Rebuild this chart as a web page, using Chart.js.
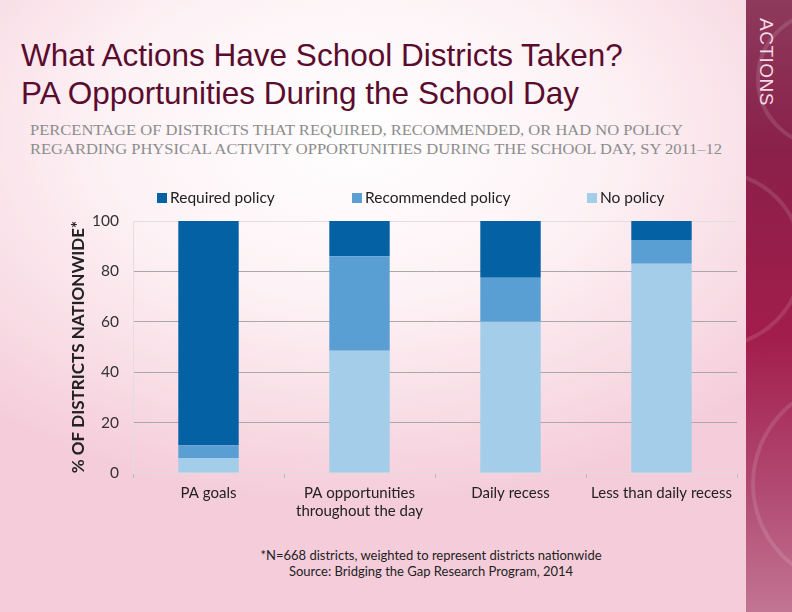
<!DOCTYPE html>
<html>
<head>
<meta charset="utf-8">
<script src="https://cdn.jsdelivr.net/npm/chart.js@4"></script>
<style>
  html, body { margin: 0; padding: 0; }
  body { width: 792px; height: 612px; position: relative; overflow: hidden;
    background: radial-gradient(ellipse 70% 60% at 45% 22%, #ffffff 0%, #fdf2f5 45%, #f8dbe4 80%, #f5cdda 100%); }
  #side { position: absolute; left: 746px; top: 0; width: 46px; height: 612px; overflow: hidden;
    background: linear-gradient(to bottom, #8d3a5c 0%, #8a2049 25%, #a21d4b 55%, #b14a72 80%, #c27593 100%); }
  .ring { position: absolute; border-radius: 50%; border: 4px solid rgba(255,255,255,0.12); }
  #side-label { position: absolute; left: 755px; top: 18px; writing-mode: vertical-rl;
    font: 19px "Liberation Sans", Arial, sans-serif; color: #f4dbe5; letter-spacing: 0.5px; }
  #title { position: absolute; left: 21px; top: 36px; font: 31.5px "Liberation Sans", Arial, sans-serif;
    color: #5b0c2e; line-height: 38px; white-space: nowrap; }
  #sub { position: absolute; left: 30px; top: 121px; font: 14.5px "Liberation Serif", serif;
    color: #8c8c8c; line-height: 19px; white-space: nowrap; }
  #sub span { display: inline-block; transform-origin: 0 0; }
  #note { position: absolute; left: 231px; width: 400px; top: 547px; text-align: center;
    font: 13px Lato, sans-serif; color: #222; line-height: 16px; }
  #chart { position: absolute; left: 0; top: 0; }
</style>
</head>
<body>
<div id="side">
  <div class="ring" style="left:10px; top:10px; width:130px; height:130px;"></div>
  <div class="ring" style="left:-120px; top:170px; width:170px; height:170px;"></div>
  <div class="ring" style="left:5px; top:380px; width:200px; height:200px;"></div>
</div>
<div id="side-label">ACTIONS</div>
<div id="title">What Actions Have School Districts Taken?<br>PA Opportunities During the School Day</div>
<div id="sub"><span data-w="653">PERCENTAGE OF DISTRICTS THAT REQUIRED, RECOMMENDED, OR HAD NO POLICY</span><br><span data-w="692">REGARDING PHYSICAL ACTIVITY OPPORTUNITIES DURING THE SCHOOL DAY, SY 2011–12</span></div>
<div id="note">*N=668 districts, weighted to represent districts nationwide<br>Source: Bridging the Gap Research Program, 2014</div>
<canvas id="chart" width="792" height="612"></canvas>
<script>
// categories and series (percent of districts)
const categories = ['PA goals', ['PA opportunities', 'throughout the day'], 'Daily recess', 'Less than daily recess'];
const noPolicy = [6, 48.5, 60, 83];
const recommended = [5, 37.5, 17.5, 9.5];
const required = [89, 14, 22.5, 7.5];
const yTicks = [0, 20, 40, 60, 80, 100];

const legendX = [157, 352, 587];

// stretch the subtitle lines to the original widths
document.querySelectorAll('#sub span').forEach(s => {
  const w = s.getBoundingClientRect().width;
  s.style.transform = 'scaleX(' + (+s.dataset.w / w) + ')';
});

// legend drawn at fixed spots, like the original layout
const spreadLegend = {
  id: 'spreadLegend',
  afterDraw(chart) {
    const c = chart.ctx;
    const order = [2, 1, 0];
    c.save();
    c.font = '15.5px Lato, sans-serif';
    c.textBaseline = 'middle';
    order.forEach((di, i) => {
      const ds = chart.data.datasets[di];
      c.fillStyle = ds.backgroundColor;
      c.fillRect(legendX[i], 193, 10, 10);
      c.fillStyle = '#222';
      c.fillText(ds.label, legendX[i] + 13, 198);
    });
    c.restore();
  }
};

new Chart(document.getElementById('chart'), {
  type: 'bar',
  data: {
    labels: categories,
    datasets: [
      { label: 'No policy', data: noPolicy, backgroundColor: '#a3cde9' },
      { label: 'Recommended policy', data: recommended, backgroundColor: '#5a9fd4' },
      { label: 'Required policy', data: required, backgroundColor: '#0461a3' }
    ]
  },
  options: {
    responsive: false,
    animation: false,
    layout: { padding: { left: 62, right: 55, top: 221, bottom: 79 } },
    datasets: { bar: { categoryPercentage: 1, barPercentage: 0.4, borderWidth: 0 } },
    plugins: { legend: { display: false }, tooltip: { enabled: false } },
    scales: {
      x: {
        stacked: true,
        afterFit(scale) { scale.height = 60; },
        grid: { offset: true, drawOnChartArea: false, drawTicks: true, tickLength: 5, color: '#bbb' },
        border: { display: true, color: '#ddd' },
        ticks: { color: '#222', font: { family: 'Lato', size: 15 }, padding: 6, maxRotation: 0, autoSkip: false }
      },
      y: {
        stacked: true,
        min: 0, max: 100,
        afterFit(scale) { scale.width = 71; },
        afterBuildTicks(scale) { scale.ticks = yTicks.map(v => ({ value: v })); },
        grid: { color: ctx => ctx.tick && ctx.tick.value === 100 ? '#e4dde0' : '#a9a9a9', drawTicks: false },
        border: { display: true, color: '#e4dde0' },
        ticks: { color: '#333', font: { family: 'Lato', size: 15.5 }, padding: 14 },
        title: { display: true, text: '% OF DISTRICTS NATIONWIDE*', color: '#222',
          font: { family: 'Lato', size: 17, weight: 'bold' }, padding: { top: 6, bottom: 0 } }
      }
    }
  },
  plugins: [spreadLegend]
});
</script>
</body>
</html>
